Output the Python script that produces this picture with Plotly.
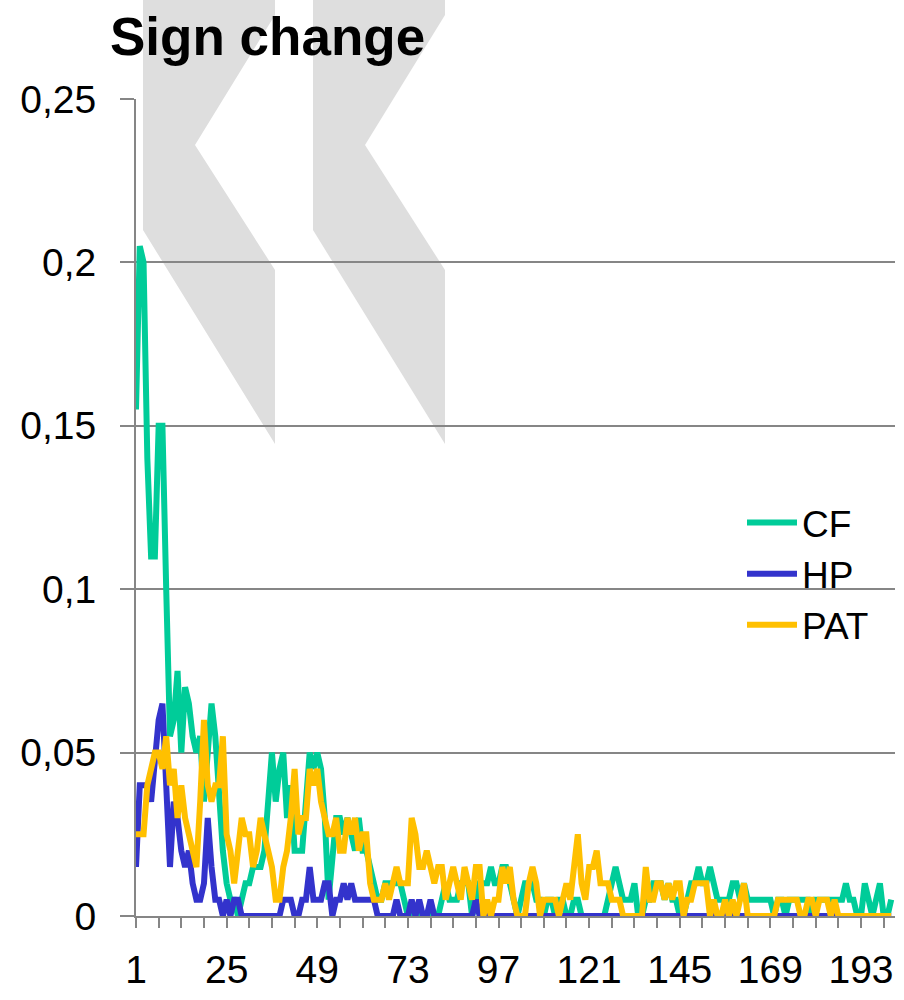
import plotly.graph_objects as go

# ---- data -------------------------------------------------------------
points = list(range(1, 202))

cf = [
    0.155, 0.205, 0.2, 0.14, 0.11, 0.11, 0.15, 0.15, 0.1, 0.055,
    0.06, 0.075, 0.05, 0.07, 0.065, 0.055, 0.05, 0.055, 0.035, 0.05,
    0.065, 0.055, 0.035, 0.02, 0.01, 0.005, 0.005, 0, 0.005, 0.01,
    0.01, 0.015, 0.015, 0.015, 0.02, 0.035, 0.05, 0.035, 0.045, 0.05,
    0.03, 0.04, 0.02, 0.02, 0.02, 0.035, 0.05, 0.045, 0.05, 0.045,
    0.03, 0.005, 0.02, 0.03, 0.03, 0.025, 0.03, 0.025, 0.02, 0.03,
    0.02, 0.02, 0.015, 0.01, 0.005, 0.005, 0.01, 0.01, 0.01, 0.01,
    0.01, 0.005, 0, 0, 0, 0, 0, 0, 0, 0,
    0, 0.005, 0.01, 0.005, 0.005, 0.005, 0.01, 0.01, 0.01, 0,
    0.005, 0.01, 0.01, 0.01, 0.015, 0.01, 0.01, 0.015, 0.015, 0.01,
    0.005, 0, 0.005, 0.01, 0.01, 0.01, 0.005, 0.005, 0, 0.005,
    0.005, 0, 0.005, 0.005, 0, 0, 0.005, 0.005, 0, 0,
    0, 0, 0, 0, 0, 0.005, 0.01, 0.015, 0.01, 0.005,
    0.005, 0.005, 0.01, 0, 0, 0.005, 0.005, 0.01, 0.01, 0.01,
    0.005, 0.01, 0.005, 0.005, 0, 0, 0.005, 0.01, 0.01, 0.015,
    0.01, 0.01, 0.015, 0.01, 0.005, 0.005, 0.005, 0.005, 0.01, 0.01,
    0.005, 0.01, 0.005, 0.005, 0.005, 0.005, 0.005, 0.005, 0.005, 0,
    0.005, 0.005, 0, 0.005, 0.005, 0.005, 0.005, 0.005, 0.005, 0,
    0.005, 0.005, 0.005, 0.005, 0.005, 0.005, 0.005, 0.005, 0.01, 0.005,
    0.005, 0, 0, 0.01, 0.005, 0, 0.005, 0.01, 0, 0,
    0.005,
]

hp = [
    0.015, 0.04, 0.04, 0.04, 0.035, 0.05, 0.06, 0.065, 0.04, 0.015,
    0.035, 0.03, 0.02, 0.015, 0.02, 0.01, 0.005, 0.005, 0.01, 0.03,
    0.015, 0.005, 0.005, 0, 0.005, 0, 0.005, 0.005, 0, 0,
    0, 0, 0, 0, 0, 0, 0, 0, 0, 0.005,
    0.005, 0.005, 0, 0, 0.005, 0.005, 0.015, 0.005, 0.005, 0.005,
    0.01, 0.01, 0, 0.005, 0.005, 0.01, 0.005, 0.01, 0.005, 0.005,
    0.005, 0.005, 0.005, 0.005, 0, 0, 0, 0, 0, 0.005,
    0, 0, 0, 0.005, 0, 0.005, 0, 0, 0.005, 0,
    0, 0, 0, 0, 0, 0, 0, 0, 0, 0,
    0.005, 0, 0, 0, 0, 0, 0, 0, 0, 0,
    0, 0, 0, 0, 0, 0, 0, 0, 0, 0,
    0, 0, 0, 0, 0, 0, 0, 0, 0, 0,
    0, 0, 0, 0, 0, 0, 0, 0, 0, 0,
    0, 0, 0, 0, 0, 0, 0, 0, 0, 0,
    0, 0, 0, 0, 0, 0, 0, 0, 0, 0,
    0, 0, 0, 0, 0, 0, 0, 0, 0, 0,
    0, 0, 0, 0, 0, 0, 0, 0, 0, 0,
    0, 0, 0, 0, 0, 0, 0, 0, 0, 0,
    0, 0, 0, 0, 0, 0, 0, 0, 0, 0,
    0, 0, 0, 0, 0, 0, 0, 0, 0, 0,
    0,
]

pat = [
    0.025, 0.025, 0.025, 0.04, 0.045, 0.05, 0.05, 0.045, 0.055, 0.04,
    0.045, 0.03, 0.04, 0.03, 0.025, 0.02, 0.015, 0.035, 0.06, 0.04,
    0.035, 0.04, 0.04, 0.055, 0.025, 0.02, 0.01, 0.02, 0.03, 0.025,
    0.025, 0.015, 0.02, 0.03, 0.025, 0.02, 0.015, 0.005, 0.005, 0.015,
    0.02, 0.03, 0.045, 0.025, 0.03, 0.03, 0.045, 0.04, 0.045, 0.035,
    0.03, 0.025, 0.025, 0.03, 0.02, 0.02, 0.03, 0.025, 0.03, 0.02,
    0.025, 0.025, 0.01, 0.005, 0.005, 0.005, 0.01, 0.005, 0.01, 0.015,
    0.01, 0.01, 0.01, 0.03, 0.025, 0.015, 0.015, 0.02, 0.015, 0.01,
    0.015, 0.015, 0.005, 0.01, 0.015, 0.01, 0.005, 0.015, 0.01, 0.005,
    0.015, 0.015, 0, 0.005, 0, 0.005, 0.005, 0.015, 0.01, 0.015,
    0.005, 0, 0, 0, 0.01, 0.015, 0.01, 0, 0.005, 0.005,
    0.005, 0.005, 0, 0.005, 0.01, 0.005, 0.015, 0.025, 0.01, 0.005,
    0.015, 0.015, 0.02, 0.01, 0.01, 0.01, 0.005, 0.005, 0.005, 0,
    0, 0, 0, 0, 0, 0.015, 0.005, 0.005, 0.01, 0.01,
    0.005, 0.01, 0.005, 0.01, 0.01, 0, 0.005, 0.005, 0.01, 0.01,
    0.01, 0.01, 0, 0.005, 0, 0, 0.005, 0, 0.005, 0,
    0.005, 0.01, 0, 0, 0, 0, 0, 0, 0, 0,
    0.005, 0.005, 0.005, 0.005, 0.005, 0.005, 0, 0, 0.005, 0.005,
    0, 0.005, 0.005, 0.005, 0, 0.005, 0, 0, 0, 0,
    0, 0, 0, 0, 0, 0, 0, 0, 0, 0,
    0,
]

series_names = ["CF", "HP", "PAT"]
series_colors = ["#00CC99", "#3333CC", "#FFC000"]

x_tick_vals = [1, 25, 49, 73, 97, 121, 145, 169, 193]
x_tick_text = ["1", "25", "49", "73", "97", "121", "145", "169", "193"]
y_tick_vals = [0, 0.05, 0.1, 0.15, 0.2, 0.25]
y_tick_text = ["0", "0,05", "0,1", "0,15", "0,2", "0,25"]

# ---- figure -----------------------------------------------------------
W, H = 904, 1000
ML, MR, MT, MB = 136, 9, 99, 84
PW, PH = W - ML - MR, H - MT - MB


def px(x, y):
    return (x - ML) / PW, (H - MB - y) / PH


def chevron(dx):
    pts = [(143, 0), (275, 0), (275, 15), (195, 145), (275, 270), (275, 444), (143, 230)]
    path = ""
    for i, (x, y) in enumerate(pts):
        a, b = px(x + dx, y)
        path += ("M" if i == 0 else "L") + f"{a:.5f},{b:.5f} "
    return dict(type="path", path=path + "Z", xref="paper", yref="paper",
                fillcolor="#DEDEDE", line=dict(width=0), layer="below")


fig = go.Figure()
for name, vals, col in zip(series_names, [cf, hp, pat], series_colors):
    fig.add_trace(go.Scatter(x=points, y=vals, mode="lines", name=name,
                             line=dict(color=col, width=6)))

font_family = "Liberation Sans, Arial, sans-serif"
fig.update_layout(
    width=W, height=H,
    margin=dict(l=ML, r=MR, t=MT, b=MB),
    paper_bgcolor="white", plot_bgcolor="rgba(0,0,0,0)",
    font=dict(family=font_family, size=39, color="black"),
    title=dict(text="<b>Sign change</b>", x=110 / W, xref="container", xanchor="left",
               y=1 - 36 / H, yref="container", yanchor="middle",
               font=dict(size=53, family=font_family, color="black")),
    shapes=[chevron(0), chevron(170)],
    showlegend=True,
    legend=dict(x=(742 - ML) / PW, y=(916 - 492) / PH, xanchor="left", yanchor="top",
                bgcolor="rgba(0,0,0,0)", font=dict(size=37, family=font_family),
                itemwidth=50, tracegroupgap=0),
)
fig.update_xaxes(
    range=[1, 202], showgrid=False, zeroline=False,
    showline=True, linecolor="#868686", linewidth=2,
    tickmode="array", tickvals=x_tick_vals, ticktext=x_tick_text,
    ticks="outside", ticklen=10, tickwidth=2, tickcolor="#868686",
    ticklabelstandoff=8,
    minor=dict(tickmode="linear", tick0=1, dtick=6, ticks="outside", ticklen=10,
               tickwidth=2, tickcolor="#868686", showgrid=False),
    tickfont=dict(size=39),
)
fig.update_yaxes(
    range=[0, 0.25], showgrid=True, gridcolor="#868686", gridwidth=2,
    zeroline=False, showline=True, linecolor="#868686", linewidth=2,
    tickmode="array", tickvals=y_tick_vals, ticktext=y_tick_text,
    ticks="outside", ticklen=14, tickwidth=2, tickcolor="#868686",
    ticklabelstandoff=16,
    tickfont=dict(size=39),
)

fig.write_html("out.html")
